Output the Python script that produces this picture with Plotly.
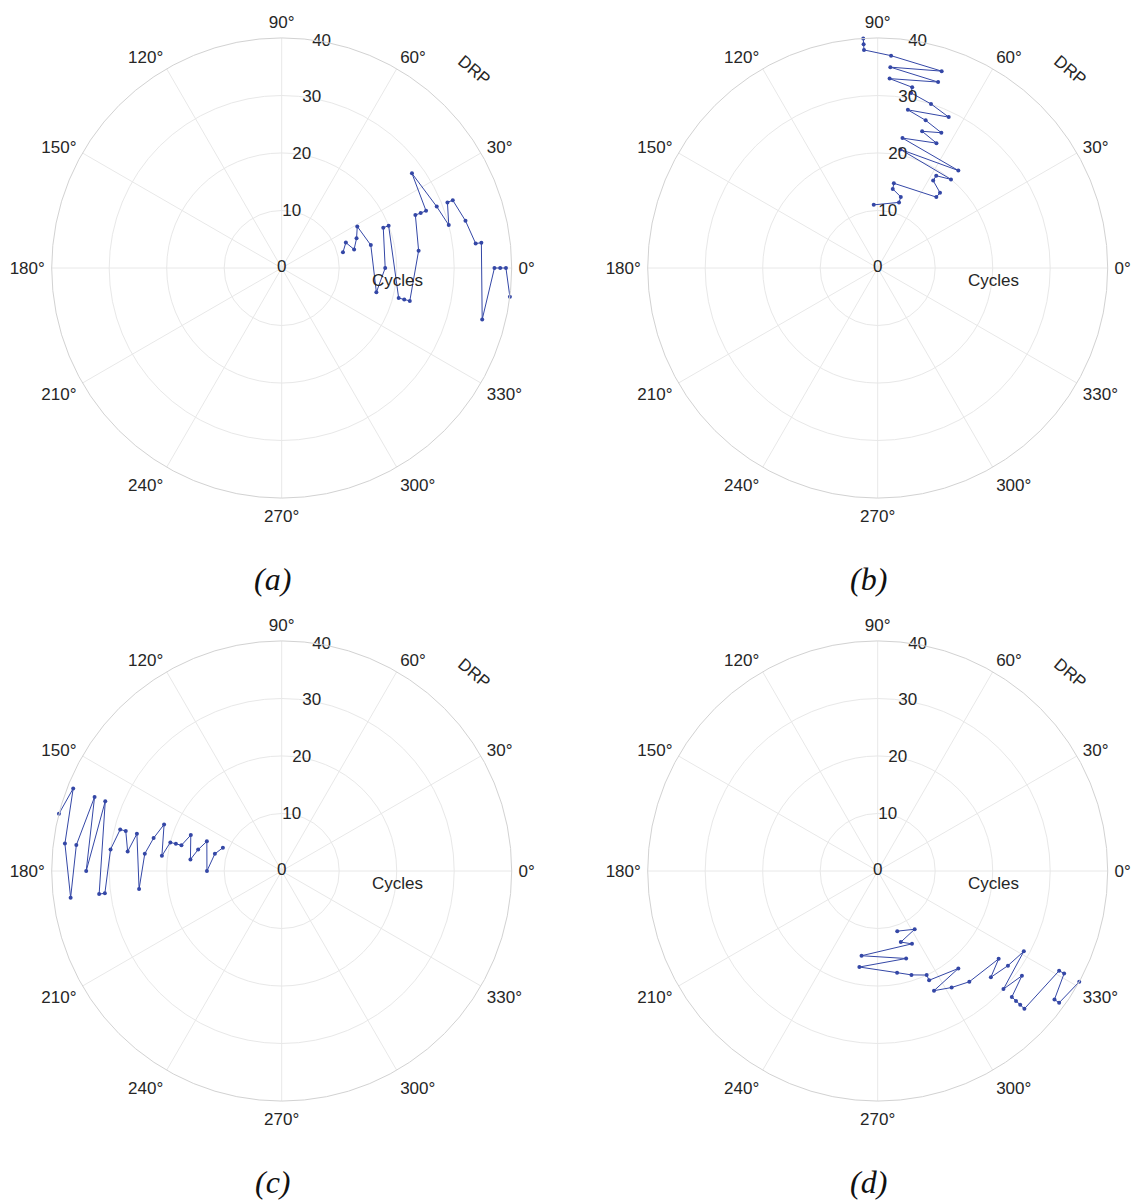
import plotly.graph_objects as go

# ---- data ----
cycles = [11, 12, 13, 14, 15, 16, 17, 18, 19, 20,
          21, 22, 23, 24, 25, 26, 27, 28, 29, 30,
          31, 32, 33, 34, 35, 36, 37, 38, 39, 40]

drp_a = [14.4, 21.6, 14.4, 21.6, 28.8, 14.4, -14.4, 0.0, 21.6, 21.6,
         -14.4, -14.4, -14.4, 7.2, 21.6, 21.6, 21.6, 36.0, 21.6, 14.4,
         21.6, 21.6, 14.4, 7.2, 7.2, -14.4, 0.0, 0.0, 0.0, -7.2]

drp_b = [93.6, 72.0, 72.0, 79.2, 79.2, 50.4, 50.4, 57.6, 57.6, 50.4,
         79.2, 50.4, 79.2, 64.8, 72.0, 64.8, 72.0, 79.2, 64.8, 72.0,
         79.2, 79.2, 86.4, 72.0, 86.4, 72.0, 86.4, 93.6, 93.6, 93.6]

drp_c = [158.4, 165.6, 180.0, 158.4, 165.6, 172.8, 158.4, 165.6, 165.6, 165.6,
         172.8, 158.4, 165.6, 172.8, 187.2, 165.6, 172.8, 165.6, 165.6, 172.8,
         187.2, 187.2, 158.4, 180.0, 158.4, 172.8, 187.2, 172.8, 158.4, 165.6]

drp_d = [288.0, 302.4, 288.0, 295.2, 259.2, 288.0, 259.2, 280.8, 288.0, 295.2,
         295.2, 309.6, 295.2, 302.4, 309.6, 324.0, 316.8, 324.0, 331.2, 316.8,
         324.0, 316.8, 316.8, 316.8, 316.8, 331.2, 331.2, 324.0, 324.0, 331.2]

radial_ticks = [0, 10, 20, 30, 40]
radial_tick_labels = ["0", "10", "20", "30", "40"]
panel_labels = ["(a)", "(b)", "(c)", "(d)"]
series = [drp_a, drp_b, drp_c, drp_d]

# ---- styling ----
W, H = 1132, 1204
R_PX = 230.0
centers = [(281.7, 268.0), (877.7, 268.0), (281.7, 871.0), (877.7, 871.0)]
LINE_COLOR = "#3447a6"
GRID = "#e8e8e8"
OUTER = "#d2d2d2"
TXT = "#262626"
FONT = "Liberation Sans, Arial, sans-serif"
FS = 17

fig = go.Figure()
annotations = []
layout_polars = {}

for i, (vals, (cx, cy)) in enumerate(zip(series, centers)):
    pname = "polar" if i == 0 else f"polar{i+1}"
    fig.add_trace(go.Scatterpolar(
        r=cycles, theta=vals, mode="lines+markers",
        line=dict(color=LINE_COLOR, width=1),
        marker=dict(color=LINE_COLOR, size=4),
        subplot=pname, showlegend=False, cliponaxis=False,
    ))
    fig.add_trace(go.Scatterpolar(
        r=radial_ticks, theta=[80] * len(radial_ticks), mode="text",
        text=radial_tick_labels, textposition="middle center",
        textfont=dict(family=FONT, size=FS, color=TXT),
        subplot=pname, showlegend=False, cliponaxis=False, hoverinfo="skip",
    ))
    layout_polars[pname] = dict(
        domain=dict(x=[(cx - R_PX) / W, (cx + R_PX) / W],
                    y=[1 - (cy + R_PX) / H, 1 - (cy - R_PX) / H]),
        bgcolor="white",
        radialaxis=dict(range=[0, 40], tickvals=[10, 20, 30, 40],
                        showticklabels=False, ticks="", showline=False,
                        gridcolor=GRID, gridwidth=1, angle=80),
        angularaxis=dict(direction="counterclockwise", rotation=0,
                         dtick=30, ticks="outside", ticklen=3,
                         tickcolor="rgba(0,0,0,0)", showline=True,
                         linecolor=OUTER, linewidth=1,
                         gridcolor=GRID, gridwidth=1,
                         tickfont=dict(family=FONT, size=FS, color=TXT)),
    )
    # "Cycles" and "DRP" labels
    annotations.append(dict(
        x=(cx + 115.5) / W, y=1 - (cy + 12.5) / H, xref="paper", yref="paper",
        text="Cycles", showarrow=False, xanchor="center", yanchor="middle",
        font=dict(family=FONT, size=FS, color=TXT)))
    annotations.append(dict(
        x=(cx + 192.5) / W, y=1 - (cy - 197.5) / H, xref="paper", yref="paper",
        text="DRP", showarrow=False, xanchor="center", yanchor="middle",
        textangle=40, font=dict(family=FONT, size=FS, color=TXT)))
    # panel caption
    annotations.append(dict(
        x=(cx - 9) / W, y=1 - (cy + 311) / H, xref="paper", yref="paper",
        text=f"<i>{panel_labels[i]}</i>", showarrow=False,
        xanchor="center", yanchor="middle",
        font=dict(family="Liberation Serif, Times New Roman, serif", size=32, color="#111")))

fig.update_layout(
    width=W, height=H,
    margin=dict(l=0, r=0, t=0, b=0),
    paper_bgcolor="white", plot_bgcolor="white",
    annotations=annotations,
    **layout_polars,
)

fig.write_html(
    "out.html",
    config={"displayModeBar": False},
    post_script="document.body.style.margin='0';document.body.style.overflow='hidden';",
)
